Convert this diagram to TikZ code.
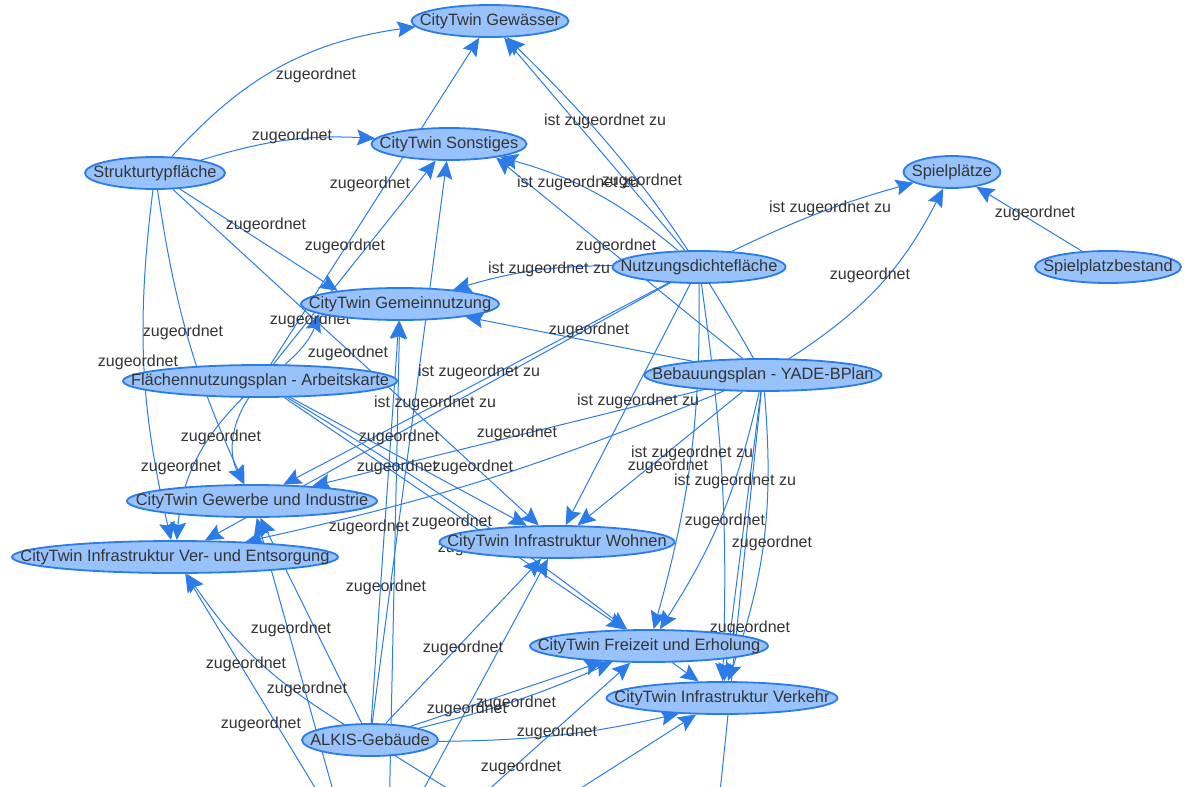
\documentclass[tikz,border=0pt]{standalone}
\usepackage{fontspec}
\setmainfont{Liberation Sans}
\usetikzlibrary{arrows.meta,shapes.geometric}
\definecolor{nodefill}{HTML}{97C2FC}
\definecolor{nodeline}{HTML}{2B7CE9}
\definecolor{edgeline}{HTML}{2B7CE9}
\definecolor{labeltext}{HTML}{343434}
\pgfdeclarelayer{background}
\pgfsetlayers{background,main}
\newcommand{\ctext}[1]{\makebox[0pt]{#1}}

\begin{document}
\begin{tikzpicture}[x=1pt,y=-1pt]
%% styles
\tikzstyle{entity}=[ellipse,draw=nodeline,fill=nodefill,line width=1.8pt,minimum height=32pt,inner sep=0pt,text=labeltext,font=\fontsize{16.4}{19}\selectfont]
\tikzstyle{link}=[draw=edgeline,line width=1pt,-{Stealth[length=18pt,width=16pt,inset=3pt]}]
\tikzstyle{relation}=[text=labeltext,inner sep=0pt,font=\fontsize{16}{19}\selectfont]

\useasboundingbox (0,0) rectangle (1200,787);

%% nodes
\foreach \name/\x/\y/\w/\txt in {GW/490/21/157/CityTwin Gewässer, SO/449/144/155/CityTwin Sonstiges, SP/952/172/97/Spielplätze, ST/155/173/140/Strukturtypfläche, SB/1108/267/146/Spielplatzbestand, ND/699/267/173/Nutzungsdichtefläche, GN/400/304/198/CityTwin Gemeinnutzung, FN/260/381/274/Flächennutzungsplan - Arbeitskarte, BB/763/375/237/Bebauungsplan - YADE-BPlan, GI/252/501/250/CityTwin Gewerbe und Industrie, VE/175/557/326/CityTwin Infrastruktur Ver- und Entsorgung, WO/557/542/235/CityTwin Infrastruktur Wohnen, FE/649/646/238/CityTwin Freizeit und Erholung, VK/722/698/231/CityTwin Infrastruktur Verkehr, AG/370/740/136/ALKIS-Gebäude}
\node[entity,minimum width=\w pt] (\name) at (\x,\y) {\ctext{\txt}};
% ends below the picture
\coordinate (offGN) at (388,870);
\coordinate (offWO) at (380,870);
\coordinate (offFE) at (399,870);
\coordinate (offVK) at (484,850);
\coordinate (offGI) at (358,880);
\coordinate (offVE) at (365,870);
\coordinate (offBB) at (712,870);
\coordinate (offAG) at (530,840);

\begin{pgfonlayer}{background}
\fill[white] (0,0) rectangle (1200,787);
\clip (0,0) rectangle (1200,787);
%% arrows
\foreach \from/\to/\bnd in {ST/GW/20, ST/SO/10, FN/GW/0, ND/GW/0, BB/GW/-8, BB/SO.-16/0, ND/SO/-12, AG/SO/0, FN/SO/0, FN/GN.187/-15, ST/GN.168/0, ST/WO/0, ST/VE/-10, ST/GI/-8, FN/GI/-30, FN/VE/-20, ND/GI/0, ND/VE/0, BB/GN/0, ND/GN/-8, BB/GI/0, BB/VE/5, ND/WO/0, BB/WO/0, FN/WO/0, FN/FE/0, FN/FE/3, ND/FE/8, BB/FE/10, ND/VK/5, BB/VK/0, BB/VK/12, FE/VK/0, ND/SP/5, BB/SP/-15, SB/SP/0, AG/GN/0, AG/WO/0, AG/FE/0, AG/FE/-5, AG/VK.200/-6, AG/GI/0, AG/VE/12}
\draw[link] (\from) to[bend left=\bnd] (\to);
% from and to the nodes below
\foreach \from/\to in {offGN/GN, offWO/WO, offFE/FE, offVK/VK, offGI/GI, offVE/VE, BB/offBB, AG/offAG}
\draw[link] (\from) -- (\to);
%% relation labels
\foreach \x/\y/\txt [count=\i] in {316/75/zugeordnet, 292/136/zugeordnet, 605/121/ist zugeordnet zu, 370/184/zugeordnet, 578/183/ist zugeordnet zu, 642/181/zugeordnet, 830/208/ist zugeordnet zu, 1035/213/zugeordnet, 266/225/zugeordnet, 345/246/zugeordnet, 616/246/zugeordnet, 549/269/ist zugeordnet zu, 870/275/zugeordnet, 310/320/zugeordnet, 589/330/zugeordnet, 183/332/zugeordnet, 348/353/zugeordnet, 138/362/zugeordnet, 479/372/ist zugeordnet zu, 435/403/ist zugeordnet zu, 638/401/ist zugeordnet zu, 399/437/zugeordnet, 517/433/zugeordnet, 221/437/zugeordnet, 692/453/ist zugeordnet zu, 668/466/zugeordnet, 181/467/zugeordnet, 397/467/zugeordnet, 473/467/zugeordnet, 735/481/ist zugeordnet zu, 452/522/zugeordnet, 369/527/zugeordnet, 725/521/zugeordnet, 772/543/zugeordnet, 478/548/zugeordnet, 386/587/zugeordnet, 291/629/zugeordnet, 750/628/zugeordnet, 463/648/zugeordnet, 246/664/zugeordnet, 307/689/zugeordnet, 467/709/zugeordnet, 516/703/zugeordnet, 261/724/zugeordnet, 557/732/zugeordnet, 521/767/zugeordnet}
\node[relation] (rel\i) at (\x,\y) {\txt};
\end{pgfonlayer}
\end{tikzpicture}
\end{document}
